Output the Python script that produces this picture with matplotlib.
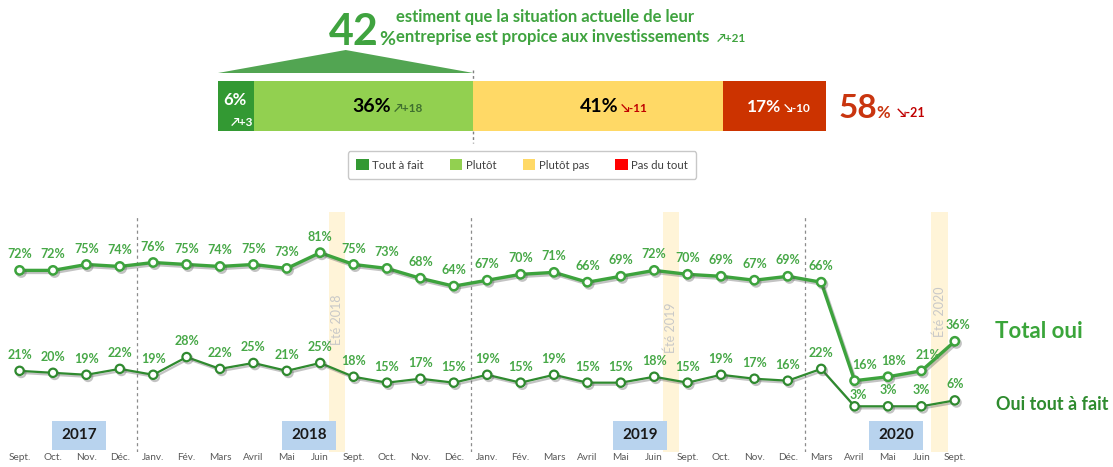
import matplotlib
matplotlib.use('Agg')
import matplotlib.pyplot as plt
import matplotlib.patheffects as pe
from matplotlib.patches import Polygon, Patch, Rectangle

plt.rcParams['font.family'] = ['Lato', 'DejaVu Sans']

# données de la barre (septembre 2020)
categories = ['Tout à fait', 'Plutôt', 'Plutôt pas', 'Pas du tout']
bar_values = [6, 36, 41, 17]
bar_deltas = ['+3', '+18', '-11', '-10']
total_delta_oui = '+21'
total_delta_non = '-21'

# séries mensuelles
months = ['Sept.', 'Oct.', 'Nov.', 'Déc.',
          'Janv.', 'Fév.', 'Mars', 'Avril', 'Mai', 'Juin', 'Sept.', 'Oct.', 'Nov.', 'Déc.',
          'Janv.', 'Fév.', 'Mars', 'Avril', 'Mai', 'Juin', 'Sept.', 'Oct.', 'Nov.', 'Déc.',
          'Mars', 'Avril', 'Mai', 'Juin', 'Sept.']
total_oui = [72, 72, 75, 74,
             76, 75, 74, 75, 73, 81, 75, 73, 68, 64,
             67, 70, 71, 66, 69, 72, 70, 69, 67, 69,
             66, 16, 18, 21, 36]
oui_tout_a_fait = [21, 20, 19, 22,
                   19, 28, 22, 25, 21, 25, 18, 15, 17, 15,
                   19, 15, 19, 15, 15, 18, 15, 19, 17, 16,
                   22, 3, 3, 3, 6]
years = ['2017', '2018', '2019', '2020']
summers = ['Été 2018', 'Été 2019', 'Été 2020']

W, H = 1113, 467
fig = plt.figure(figsize=(W / 100, H / 100), dpi=100)

def fx(x):
    return x / W

def fy(y):
    return 1 - y / H

# couleurs
bar_colors = ['#339933', '#92D050', '#FFD966', '#CC3300']
leg_colors = ['#339933', '#92D050', '#FFD966', '#FF0000']
green_txt = '#3FA33F'
red_txt = '#C9350F'

# calque pour le texte libre (coordonnées pixel)
ax_top = fig.add_axes([0, 0, 1, 1])
ax_top.set_xlim(0, W)
ax_top.set_ylim(H, 0)
ax_top.axis('off')

# ---- barre empilée ----
bar_left, bar_right, bar_top, bar_bot = 218, 826, 81, 131
ax_bar = fig.add_axes([fx(bar_left), fy(bar_bot), fx(bar_right - bar_left), (bar_bot - bar_top) / H])
ax_bar.patch.set_visible(False)
left = 0
for v, c in zip(bar_values, bar_colors):
    ax_bar.barh(0, v, left=left, height=1, color=c, edgecolor='none',
                path_effects=[pe.SimplePatchShadow(offset=(1.5, -1.5), alpha=0.25), pe.Normal()])
    left += v
ax_bar.set_xlim(0, 100)
ax_bar.set_ylim(-0.5, 0.5)
ax_bar.axis('off')

# étiquettes dans la barre
ax_bar.text(0.8, 0.12, f'{bar_values[0]}%', color='white', fontsize=12, fontweight='bold', ha='left', va='center')
ax_bar.text(5.8, -0.33, '↗' + bar_deltas[0], color='white', fontsize=8.5, fontweight='bold', ha='right', va='center')
lab_pos = [28.5, 65.8, 92.6]
lab_col = ['black', 'black', 'white']
dlt_col = ['#3F6F2F', '#C00000', 'white']
arrows = ['↗', '↘', '↘']
sizes = [14, 14, 12.5]
for i in range(3):
    ax_bar.text(lab_pos[i], -0.02, f'{bar_values[i + 1]}%', color=lab_col[i], fontsize=sizes[i],
                fontweight='bold', ha='right', va='center')
    ax_bar.text(lab_pos[i] + 0.4, -0.04, arrows[i] + bar_deltas[i + 1], color=dlt_col[i], fontsize=8.5,
                fontweight='bold', ha='left', va='center')

scale = (bar_right - bar_left) / 100
split_px = bar_left + (bar_values[0] + bar_values[1]) * scale
ax_top.plot([split_px, split_px], [70, 143], color='#808080', lw=1, ls=(0, (2, 2)))
tri = Polygon([[bar_left, 73], [split_px, 73], [(bar_left + split_px) / 2, 50]], closed=True,
              facecolor='#52A552', edgecolor='none')
ax_top.add_patch(tri)

# titre "42%"
oui = bar_values[0] + bar_values[1]
non = bar_values[2] + bar_values[3]
ax_top.text(379, 45, str(oui), color=green_txt, fontsize=31, fontweight='bold', ha='right', va='baseline')
ax_top.text(379, 45, '%', color=green_txt, fontsize=14, fontweight='bold', ha='left', va='baseline')
ax_top.text(396, 17, 'estiment que la situation actuelle de leur', color=green_txt, fontsize=12,
            fontweight='bold', ha='left', va='center')
ax_top.text(396, 37, 'entreprise est propice aux investissements', color=green_txt, fontsize=12,
            fontweight='bold', ha='left', va='center')
ax_top.text(717, 38, '↗' + total_delta_oui, color=green_txt, fontsize=8.5, fontweight='bold', ha='left', va='center')

# "58%"
ax_top.text(877, 118, str(non), color=red_txt, fontsize=24, fontweight='bold', ha='right', va='baseline')
ax_top.text(876, 118, '%', color=red_txt, fontsize=12, fontweight='bold', ha='left', va='baseline')
ax_top.text(897, 113, '↘' + total_delta_non, color='#C00000', fontsize=9, fontweight='bold', ha='left', va='center')

# légende
handles = [Patch(facecolor=c, edgecolor='none') for c in leg_colors]
leg = ax_bar.legend(handles, categories, ncol=4, loc='center', bbox_to_anchor=(fx(522), fy(165)),
                    bbox_transform=fig.transFigure, fontsize=8.2, handlelength=1.1, handleheight=1.1,
                    handletextpad=0.3, columnspacing=2.3, borderpad=0.7, fancybox=True, framealpha=1)
leg.get_frame().set_edgecolor('#C8C8C8')
for t in leg.get_texts():
    t.set_color('#404040')

# ---- courbes ----
x0, dx = 19.6, 33.4
ax_line = fig.add_axes([0, fy(452), 1, (452 - 205) / H])
ax_line.patch.set_visible(False)
ax_line.set_xlim(-x0 / dx, (W - x0) / dx)
ax_line.set_ylim(-20.2, 105.2)
for s in ax_line.spines.values():
    s.set_visible(False)
ax_line.set_yticks([])
xs = list(range(len(months)))
ax_line.set_xticks(xs)
ax_line.set_xticklabels(months, fontsize=7.2, color='#595959')
ax_line.tick_params(axis='x', length=0, pad=1)

# bandes été
summer_pos = [9.5, 19.5, 27.55]
summer_txt_y = [47, 43, 51]
for s, p, ty in zip(summers, summer_pos, summer_txt_y):
    ax_line.axvspan(p - 0.25, p + 0.25, ymin=0, ymax=0.97, color='#FFF4D8', lw=0, zorder=0)
    ax_line.text(p, ty, s, rotation=90, color='#C8C8C8', fontsize=9, ha='center', va='center', zorder=1)

# séparateurs d'années
for p in [3.5, 13.5, 23.5]:
    ax_line.axvline(p, ymin=0, ymax=0.96, color='#8C8C8C', lw=0.9, ls=(0, (2.5, 2.5)), zorder=1)

# cases années
year_pos = [1.78, 8.67, 18.57, 26.24]
for y, p in zip(years, year_pos):
    ax_line.add_patch(Rectangle((p - 0.81, -19.2), 1.62, 14.8, facecolor='#B8D3EE', edgecolor='none', zorder=1))
    ax_line.text(p, -11.8, y, fontsize=11, fontweight='bold', color='#1A1A1A', ha='center', va='center', zorder=2)

shadow = [pe.SimpleLineShadow(offset=(1.2, -1.5), alpha=0.35, shadow_color='#555555'), pe.Normal()]
ax_line.plot(xs, total_oui, color='#3DA33D', lw=2.4, marker='o', ms=6, mfc='white', mec='#3DA33D',
             mew=1.8, zorder=4, path_effects=shadow)
ax_line.plot(xs, oui_tout_a_fait, color='#2F8A2F', lw=1.6, marker='o', ms=6, mfc='white', mec='#2F8A2F',
             mew=1.6, zorder=4, path_effects=shadow)

lab_green = '#47A847'
dx_total = {25: 10, 26: 6, 27: 7, 28: 3}
dx_low = {25: 4}
for i, v in enumerate(total_oui):
    ax_line.annotate(f'{v}%', (i, v), xytext=(dx_total.get(i, 0) * 0.72, 11.5), textcoords='offset points',
                     ha='center', va='center', fontsize=9, fontweight='bold', color=lab_green, zorder=5)
for i, v in enumerate(oui_tout_a_fait):
    ax_line.annotate(f'{v}%', (i, v), xytext=(dx_low.get(i, 0) * 0.72, 11.5 if i != 25 else 8),
                     textcoords='offset points', ha='center', va='center', fontsize=9, fontweight='bold',
                     color=lab_green, zorder=5)

# noms des séries
ax_top.text(995, 331, 'Total oui', color='#3AA53A', fontsize=16, fontweight='bold', ha='left', va='center')
ax_top.text(996, 404, 'Oui tout à fait', color='#2E8B2E', fontsize=13, fontweight='bold', ha='left', va='center')

plt.savefig('out.png', dpi=100)
